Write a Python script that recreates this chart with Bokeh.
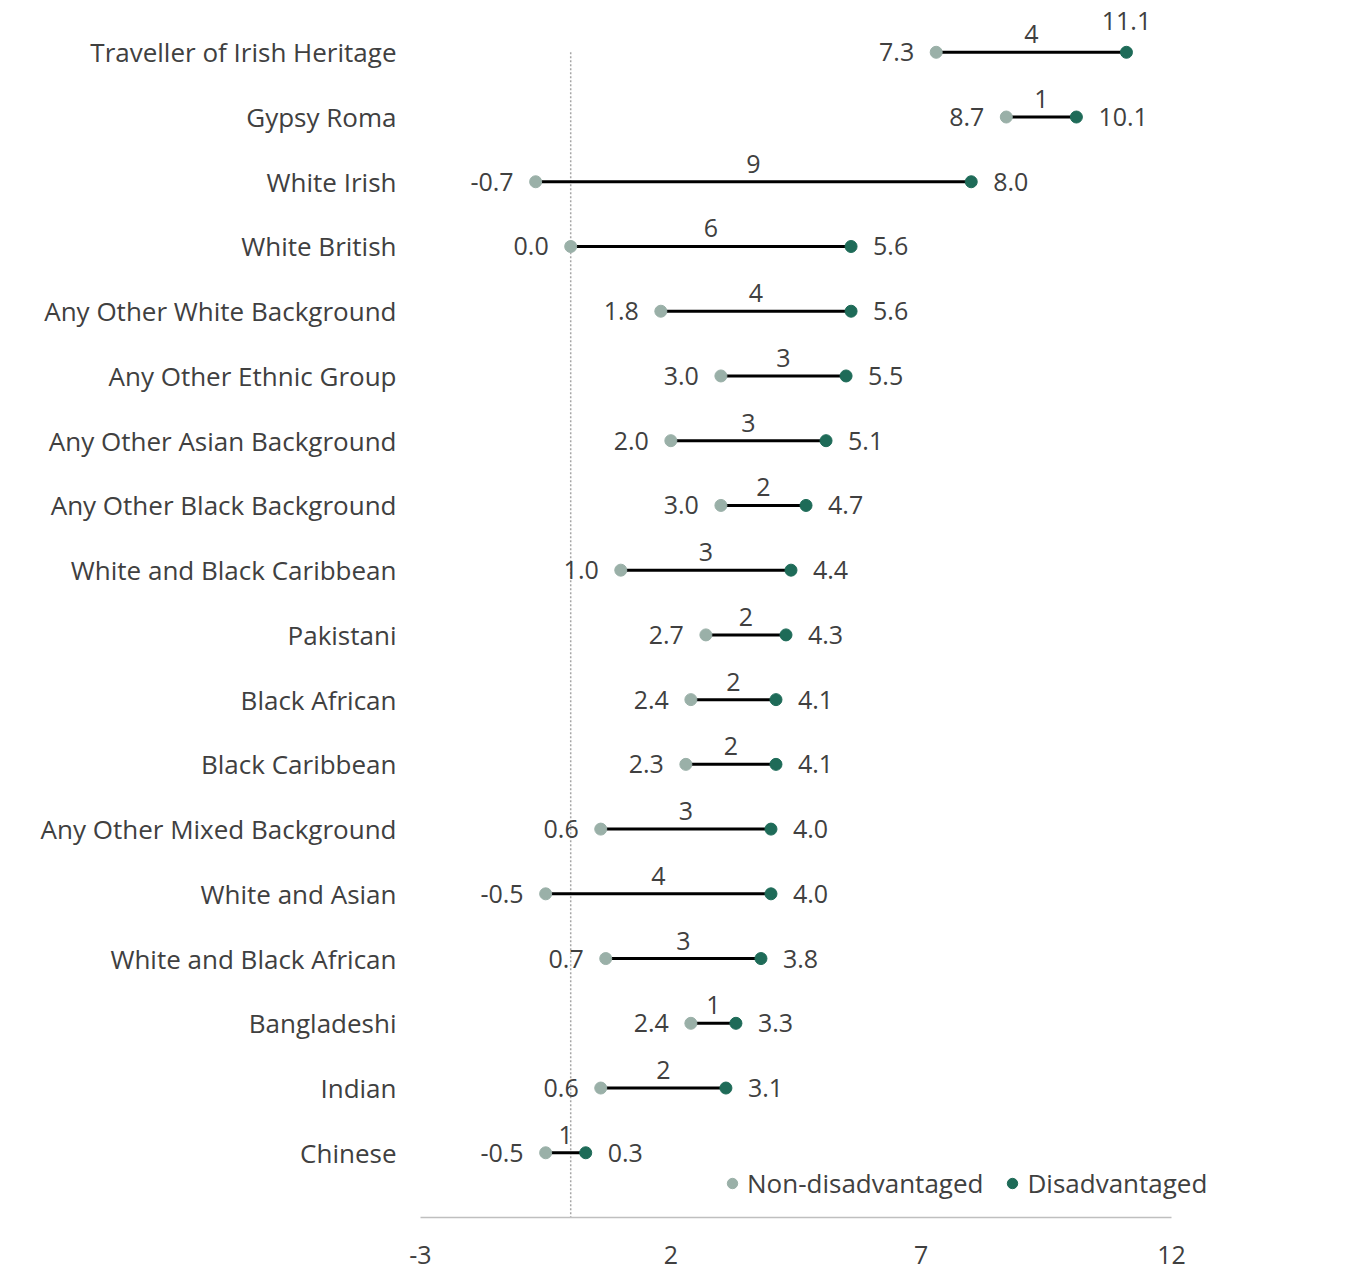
from bokeh.plotting import figure
from bokeh.models import (ColumnDataSource, Range1d, Legend, LegendItem,
                          FixedTicker, LabelSet)
from bokeh.core.properties import value
from bokeh.embed import file_html
from bokeh.resources import INLINE

categories = ["Traveller of Irish Heritage", "Gypsy Roma", "White Irish", "White British",
              "Any Other White Background", "Any Other Ethnic Group", "Any Other Asian Background",
              "Any Other Black Background", "White and Black Caribbean", "Pakistani",
              "Black African", "Black Caribbean", "Any Other Mixed Background", "White and Asian",
              "White and Black African", "Bangladeshi", "Indian", "Chinese"]
non_disadvantaged = [7.3, 8.7, -0.7, 0.0, 1.8, 3.0, 2.0, 3.0, 1.0, 2.7, 2.4, 2.3, 0.6, -0.5, 0.7, 2.4, 0.6, -0.5]
disadvantaged = [11.1, 10.1, 8.0, 5.6, 5.6, 5.5, 5.1, 4.7, 4.4, 4.3, 4.1, 4.1, 4.0, 4.0, 3.8, 3.3, 3.1, 0.3]
gap_labels = ["4", "1", "9", "6", "4", "3", "3", "2", "3", "2", "2", "2", "3", "4", "3", "1", "2", "1"]
x_ticks = [-3, 2, 7, 12]

FONT = "Open Sans"
FS = "26px"
VFS = "25px"
TXT = "#404040"
LIGHT = "#9AB0A8"
DARK = "#1E6B58"

n = len(categories)
ys = list(range(n))
mid = [(a + b) / 2 for a, b in zip(non_disadvantaged, disadvantaged)]

src = ColumnDataSource(dict(
    y=ys, nd=non_disadvantaged, d=disadvantaged, mid=mid, gap=gap_labels,
    nd_lab=[f"{v:.1f}" for v in non_disadvantaged],
))
# disadvantaged labels: right of dot, unless near the right edge (then above)
right_idx = [i for i, v in enumerate(disadvantaged) if v <= 10.5]
above_idx = [i for i, v in enumerate(disadvantaged) if v > 10.5]
src_r = ColumnDataSource(dict(y=[ys[i] for i in right_idx], d=[disadvantaged[i] for i in right_idx],
                              lab=[f"{disadvantaged[i]:.1f}" for i in right_idx]))
src_a = ColumnDataSource(dict(y=[ys[i] for i in above_idx], d=[disadvantaged[i] for i in above_idx],
                              lab=[f"{disadvantaged[i]:.1f}" for i in above_idx]))

# frame spans x=420..1350 px; axis drawn only from -3 to 12
p = figure(width=1360, height=1274, output_backend="svg", toolbar_location=None,
           x_range=Range1d(-3, 15.575), y_range=Range1d(18, -0.8))
p.min_border_left = 420
p.min_border_right = 10
p.min_border_top = 0
p.min_border_bottom = 57
p.outline_line_color = None
p.background_fill_color = "white"
p.border_fill_color = "white"
p.grid.visible = False

# zero reference line (from the first row down to the axis)
p.segment(x0=[0], y0=[ys[0]], x1=[0], y1=[n], line_color="#A6A6A6",
          line_dash="2 2", line_width=1.5)

p.segment(x0="nd", y0="y", x1="d", y1="y", source=src, line_color="black", line_width=3)
r_nd = p.scatter(x="nd", y="y", source=src, size=12, fill_color=LIGHT, line_color=LIGHT)
r_d = p.scatter(x="d", y="y", source=src, size=12, fill_color=DARK, line_color=DARK)

lab_kw = dict(text_font=value(FONT), text_font_size=value(VFS), text_color=TXT)
p.add_layout(LabelSet(x="nd", y="y", text="nd_lab", source=src, x_offset=-22, y_offset=0,
                      text_align="right", text_baseline="middle", **lab_kw))
p.add_layout(LabelSet(x="d", y="y", text="lab", source=src_r, x_offset=22, y_offset=0,
                      text_align="left", text_baseline="middle", **lab_kw))
p.add_layout(LabelSet(x="d", y="y", text="lab", source=src_a, x_offset=0, y_offset=22,
                      text_align="center", text_baseline="bottom", **lab_kw))
p.add_layout(LabelSet(x="mid", y="y", text="gap", source=src, x_offset=0, y_offset=9,
                      text_align="center", text_baseline="bottom", **lab_kw))

# axes
p.xaxis.ticker = FixedTicker(ticks=x_ticks)
p.xaxis.bounds = (-3, 12)
p.xaxis.major_label_overrides = {t: str(t) for t in x_ticks}
p.xaxis.axis_line_color = "#BFBFBF"
p.xaxis.axis_line_width = 1.5
p.xaxis.major_tick_line_color = None
p.xaxis.minor_tick_line_color = None
p.xaxis.major_tick_out = 0
p.xaxis.major_tick_in = 0
p.xaxis.minor_tick_out = 0
p.xaxis.major_label_standoff = 28
p.xaxis.major_label_text_font = FONT
p.xaxis.major_label_text_font_size = VFS
p.xaxis.major_label_text_color = TXT

p.yaxis.ticker = FixedTicker(ticks=ys)
p.yaxis.major_label_overrides = {i: c for i, c in enumerate(categories)}
p.yaxis.axis_line_color = None
p.yaxis.major_tick_line_color = None
p.yaxis.minor_tick_line_color = None
p.yaxis.major_tick_out = 0
p.yaxis.major_tick_in = 0
p.yaxis.minor_tick_out = 0
p.yaxis.major_label_standoff = 24
p.yaxis.major_label_text_font = FONT
p.yaxis.major_label_text_font_size = FS
p.yaxis.major_label_text_color = TXT

legend = Legend(items=[LegendItem(label="Non-disadvantaged", renderers=[r_nd]),
                       LegendItem(label="Disadvantaged", renderers=[r_d])],
                orientation="horizontal", location=(299, 16),
                label_text_font=FONT, label_text_font_size=FS, label_text_color=TXT,
                glyph_width=26, glyph_height=26, label_standoff=2, spacing=16,
                padding=0, margin=0, border_line_color=None, background_fill_alpha=0)
p.add_layout(legend, "center")

open("out.html", "w").write(file_html(p, INLINE))
